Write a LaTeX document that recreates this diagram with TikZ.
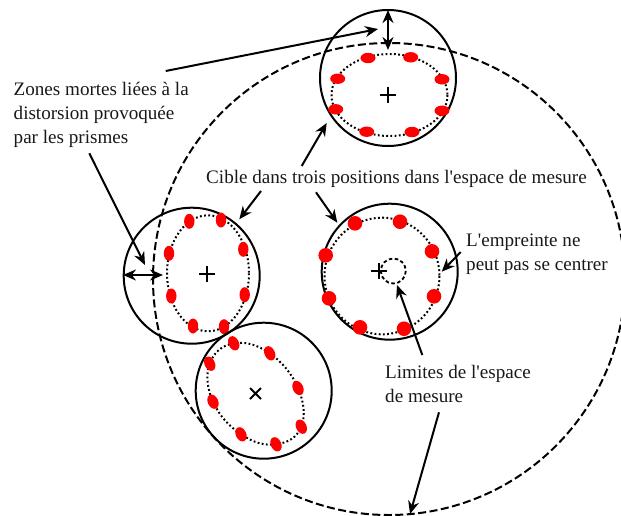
\documentclass[tikz,border=0pt]{standalone}
\usepackage{fontspec}
\setmainfont{Liberation Serif}
\usetikzlibrary{arrows.meta}
\tikzset{
    wall/.style={line width=2pt},
    border/.style={line width=2pt, dash pattern=on 8pt off 3.5pt},
    hole/.style={line width=1.8pt, dash pattern=on 3.5pt off 2.5pt},
    trace/.style={line width=2pt, dash pattern=on 1.8pt off 2.4pt},
    mark line/.style={line width=1.9pt},
    pointer/.style={-{Stealth[length=13pt,width=11pt]}, line width=2pt},
    both/.style={{Stealth[length=13pt,width=11pt]}-{Stealth[length=13pt,width=11pt]}, line width=2pt},
    label/.style={inner sep=0pt, align=left, font=\fontsize{19.1}{24}\selectfont, text=black!90},
}

\begin{document}
\begin{tikzpicture}[x=1pt, y=-1pt]
    \useasboundingbox (0,0) rectangle (621,515);
    \clip (0,0) rectangle (621,515);

    % Measuring space
    \draw[border] (389,279) circle (236);
    \draw[hole] (393.3,271) circle (12.5);

    % Target, top
    \draw[wall] (388,78) circle (68);
    \draw[trace] (389.5,95) ellipse (58 and 41);
    \foreach \x/\y in {368/58, 410.7/57.3, 337.7/78.7, 442/79.3, 335.7/109.3, 442/110.7, 366.7/131.7, 412/132}
        \fill[red] (\x,\y) ellipse (7.5 and 5.2);
    \draw[mark line] (380,94.7) -- (396,94.7) (388,86.7) -- (388,102.7);

    % Target, left
    \draw[wall] (191.7,275.7) circle (68);
    \draw[trace] (208,273.3) ellipse (41 and 58);
    \foreach \x/\y in {189.3/221.3, 221/220, 169/253.3, 243.3/249.3, 171.3/296, 244.7/294.7, 193/326, 224/326.7}
        \fill[red] (\x,\y) ellipse (5.2 and 7.5);
    \draw[mark line] (199.3,274) -- (215.3,274) (207.3,266) -- (207.3,282);

    % Target, right
    \draw[wall] (389.7,271.7) circle (68);
    \draw[trace] (382,276) ellipse (57.5 and 58.3);
    \foreach \x/\y in {355/223.3, 400/221.7, 432/251.3, 325.7/255.3, 329/298.3, 434/296.3, 360/327.3, 404/328.7}
        \fill[red] (\x,\y) circle (7.3);
    \draw[mark line] (371,271.3) -- (386.7,271.3) (378.7,263.3) -- (378.7,279.3);

    % Target, bottom
    \draw[wall] (263.7,390.7) circle (68);
    \draw[trace] plot[smooth cycle, tension=0.7] coordinates {(233.7,343.3) (269.7,353.3) (298,388) (301.3,426.7) (276,444.3) (241,434.3) (213,401.7) (209.7,363.7)};
    \foreach \x/\y in {233.7/343.3, 269.7/353.3, 209.7/363.7, 298/388, 213/401.7, 301.3/426.7, 241/434.3, 276/444.3}
        \fill[red, rotate around={25:(\x,\y)}] (\x,\y) ellipse (5.2 and 7.5);
    \draw[mark line] (250,388) -- (261,399) (250,399) -- (261,388);

    % Labels
    \node[label, anchor=north west] (zones) at (13.5,82) {Zones mortes liées à la\\distorsion provoquée\\par les prismes};
    \node[label, anchor=base west] (cible) at (206,183.3) {Cible dans trois positions dans l\textquotesingle espace de mesure};
    \node[label, anchor=north west] (empreinte) at (466,234) {L\textquotesingle empreinte ne\\peut pas se centrer};
    \node[label, anchor=north west] (limites) at (385,365) {Limites de l\textquotesingle espace\\de mesure};

    % Free ends
    \coordinate (zonestop) at (165.7,71);
    \coordinate (zoneslow) at (89.3,153.3);
    \coordinate (tiptop) at (378,29);
    \coordinate (tipleft) at (145,265);
    \coordinate (cibletop) at (301.7,166);
    \coordinate (cibleleft) at (261,191);
    \coordinate (cibleright) at (316,192.3);
    \coordinate (ciblea) at (326.7,123);
    \coordinate (cibleb) at (239.3,219.3);
    \coordinate (ciblec) at (337.3,222.7);
    \coordinate (empfrom) at (460.7,252);
    \coordinate (empto) at (441.7,271.7);
    \coordinate (limfrom) at (422.3,355);
    \coordinate (limto) at (397,285);
    \coordinate (bordfrom) at (439,412.3);
    \coordinate (bordto) at (410,514);
    \coordinate (gaptop) at (388,10);
    \coordinate (gapbot) at (388,50);
    \coordinate (gapl) at (123,275);
    \coordinate (gapr) at (163,275);

    % Arrows
    \draw[pointer] (zonestop) -- (tiptop);
    \draw[pointer] (zoneslow) -- (tipleft);
    \draw[pointer] (cibletop) -- (ciblea);
    \draw[pointer] (cibleleft) -- (cibleb);
    \draw[pointer] (cibleright) -- (ciblec);
    \draw[pointer] (empfrom) -- (empto);
    \draw[pointer] (limfrom) -- (limto);
    \draw[pointer] (bordfrom) -- (bordto);
    \draw[both] (gaptop) -- (gapbot);
    \draw[both] (gapl) -- (gapr);
\end{tikzpicture}
\end{document}
